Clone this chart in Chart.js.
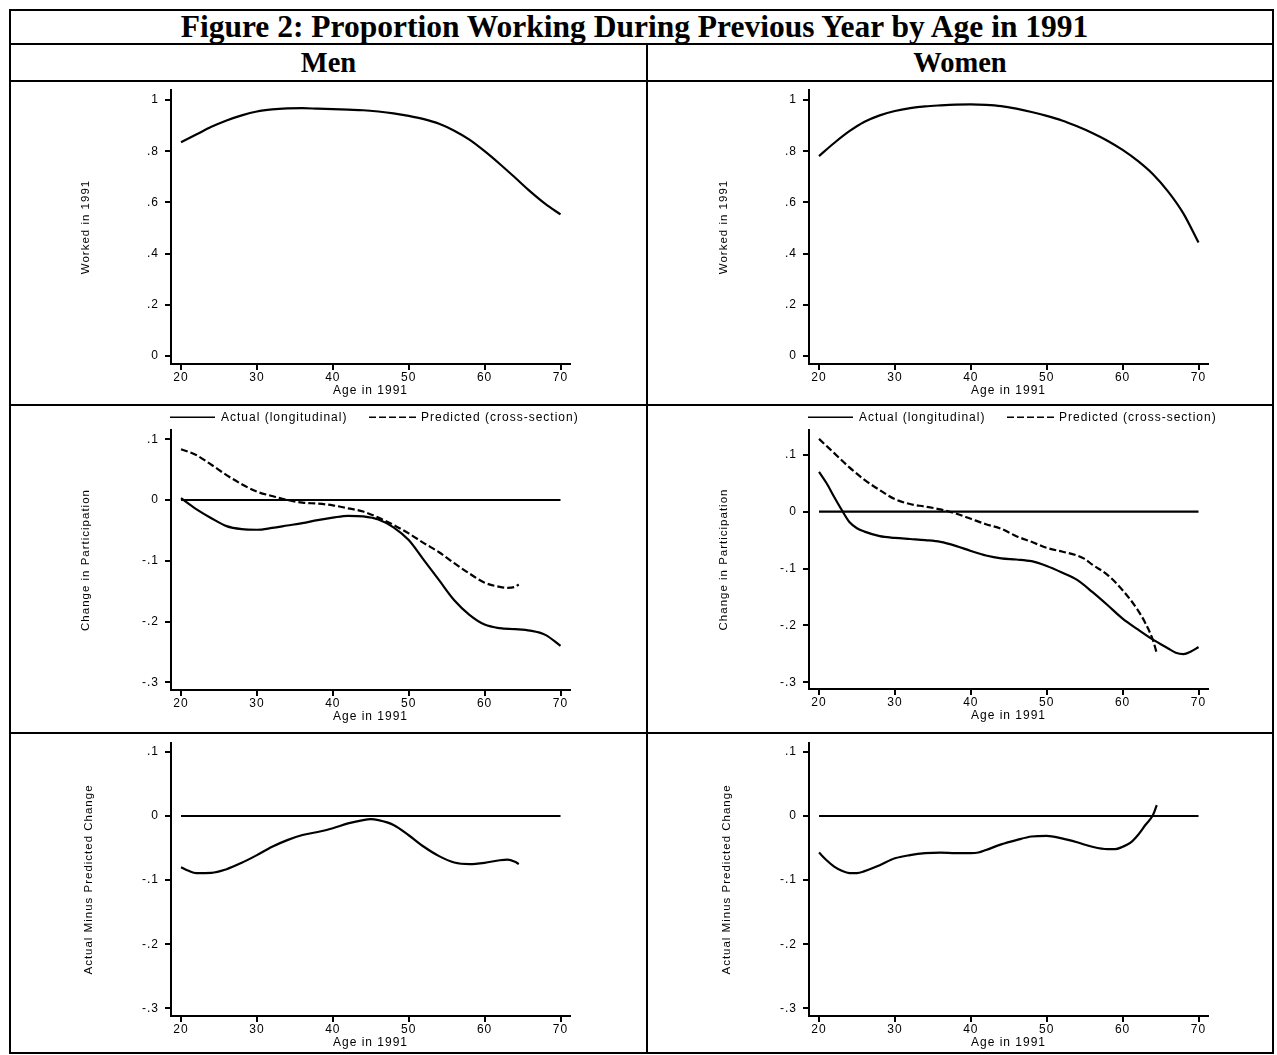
<!DOCTYPE html>
<html lang="en"><head><meta charset="utf-8"><title>Figure 2</title>
<script src="https://cdn.jsdelivr.net/npm/chart.js@4.4.1/dist/chart.umd.min.js"></script>
<style>
html,body{margin:0;padding:0;background:#fff;}
body{position:relative;width:1277px;height:1055px;overflow:hidden;}
.ln{position:absolute;background:#000;}
.hd{position:absolute;font-family:"Times New Roman","Liberation Serif",serif;font-weight:bold;color:#000;text-align:center;white-space:nowrap;}
canvas{position:absolute;}
</style></head><body>
<div class="ln" style="left:9px;top:9px;width:1265px;height:2px"></div>
<div class="ln" style="left:9px;top:43px;width:1265px;height:2px"></div>
<div class="ln" style="left:9px;top:80px;width:1265px;height:2px"></div>
<div class="ln" style="left:9px;top:404px;width:1265px;height:2px"></div>
<div class="ln" style="left:9px;top:732px;width:1265px;height:2px"></div>
<div class="ln" style="left:9px;top:1052px;width:1265px;height:2px"></div>
<div class="ln" style="left:9px;top:9px;width:2px;height:1045px"></div>
<div class="ln" style="left:1272px;top:9px;width:2px;height:1045px"></div>
<div class="ln" style="left:646px;top:44px;width:2px;height:1010px"></div>
<div class="hd" style="left:4px;top:11px;width:1261px;height:32px;line-height:32px;font-size:31.5px">Figure 2: Proportion Working During Previous Year by Age in 1991</div>
<div class="hd" style="left:11px;top:45px;width:635px;height:35px;line-height:35px;font-size:28.5px">Men</div>
<div class="hd" style="left:648px;top:45px;width:624px;height:35px;line-height:35px;font-size:28.5px">Women</div>
<canvas id="m1"></canvas><canvas id="w1"></canvas>
<canvas id="m2"></canvas><canvas id="w2"></canvas>
<canvas id="m3"></canvas><canvas id="w3"></canvas>
<script>
// ---------- data ----------
const xTickVals = [20, 30, 40, 50, 60, 70];
const xTickLabels = ['20', '30', '40', '50', '60', '70'];
const xTitle = 'Age in 1991';
const yTicksLevel = [0, 0.2, 0.4, 0.6, 0.8, 1];
const yLabelsLevel = ['0', '.2', '.4', '.6', '.8', '1'];
const yTicksChange = [-0.3, -0.2, -0.1, 0, 0.1];
const yLabelsChange = ['-.3', '-.2', '-.1', '0', '.1'];
const yTitleLevel = 'Worked in 1991';
const yTitleChange = 'Change in Participation';
const yTitleDiff = 'Actual Minus Predicted Change';
const labelActual = 'Actual (longitudinal)';
const labelPredicted = 'Predicted (cross-section)';

const zeroAges = [20, 70];
const zeroVals = [0, 0];

// Row 1: worked in 1991
const agesLevel = [20,22,24,26,28,30,32,34,36,38,40,42,44,46,48,50,52,54,56,58,60,62,64,66,68,70];
const menWorked = [0.835,0.865,0.895,0.920,0.940,0.955,0.963,0.967,0.968,0.966,0.964,0.962,0.960,0.955,0.948,0.938,0.925,0.907,0.880,0.845,0.800,0.750,0.697,0.643,0.594,0.553];
const womenWorked = [0.781,0.832,0.878,0.915,0.940,0.957,0.968,0.975,0.979,0.982,0.983,0.981,0.976,0.966,0.953,0.938,0.920,0.897,0.871,0.841,0.805,0.762,0.710,0.642,0.557,0.443];

// Row 2: change in participation, men
const menActualAges = [20,22,24,26,28,30,32,34,36,38,40,42,44,46,48,50,52,54,56,58,60,62,64,66,68,70];
const menActual = [0.003,-0.015,-0.030,-0.043,-0.048,-0.049,-0.046,-0.042,-0.038,-0.033,-0.029,-0.026,-0.027,-0.032,-0.045,-0.066,-0.099,-0.132,-0.165,-0.189,-0.205,-0.211,-0.2125,-0.215,-0.222,-0.240];
const menPredAges = [20,22,24,26,28,30,32,34,36,38,40,42,44,46,48,50,52,54,56,58,60,62,63,64,64.5];
const menPred = [0.0835,0.074,0.058,0.041,0.026,0.0137,0.0066,0.0,-0.0044,-0.006,-0.0088,-0.0137,-0.019,-0.029,-0.041,-0.055,-0.071,-0.086,-0.104,-0.121,-0.136,-0.143,-0.1445,-0.143,-0.139];

// Row 2: change in participation, women
const womenActualAges = [20,21,22,23,24,25,26,28,30,32,34,36,38,40,42,44,46,48,50,52,54,56,58,60,62,64,66,67,68,69,70];
const womenActual = [0.070,0.050,0.026,0.003,-0.018,-0.029,-0.035,-0.043,-0.046,-0.048,-0.050,-0.053,-0.060,-0.069,-0.077,-0.082,-0.084,-0.087,-0.0955,-0.107,-0.120,-0.141,-0.164,-0.188,-0.207,-0.225,-0.2405,-0.248,-0.2505,-0.246,-0.238];
const womenPredAges = [20,22,24,26,28,30,32,34,36,38,40,42,44,46,48,50,52,54,55,56,58,60,62,63,64,64.5];
const womenPred = [0.128,0.103,0.078,0.056,0.038,0.022,0.0135,0.009,0.004,-0.003,-0.0125,-0.022,-0.030,-0.043,-0.053,-0.0635,-0.070,-0.077,-0.083,-0.093,-0.111,-0.138,-0.173,-0.196,-0.226,-0.249];

// Row 3: actual minus predicted
const menDiffAges = [20,21,22,24,26,28,30,32,34,36,38,40,42,44,45,46,48,50,52,54,56,58,60,62,63,64,64.5];
const menDiff = [-0.080,-0.0855,-0.089,-0.0887,-0.083,-0.073,-0.061,-0.048,-0.0376,-0.0297,-0.025,-0.019,-0.0115,-0.0063,-0.005,-0.0065,-0.014,-0.030,-0.048,-0.0626,-0.0725,-0.075,-0.073,-0.069,-0.068,-0.0715,-0.075];
const womenDiffAges = [20,21,22,23,24,25,26,28,30,32,34,36,38,40,41,42,44,46,48,50,52,54,56,58,59,60,61,62,63,64,64.5];
const womenDiff = [-0.057,-0.069,-0.079,-0.0855,-0.089,-0.089,-0.086,-0.0767,-0.066,-0.061,-0.058,-0.057,-0.058,-0.058,-0.057,-0.053,-0.0443,-0.0376,-0.032,-0.031,-0.035,-0.041,-0.048,-0.0517,-0.0517,-0.048,-0.042,-0.030,-0.014,0.0016,0.017];

// ---------- drawing ----------
const FONT = "Arial, 'Liberation Sans', Helvetica, sans-serif";
const pts = (xs, ys) => xs.map((x, i) => ({x: x, y: ys[i]}));

function line(xs, ys, label, dashed) {
  return {
    label: label, data: pts(xs, ys), borderColor: '#000', borderWidth: 2.2,
    borderDash: dashed ? [7, 3] : [], pointRadius: 0, fill: false,
    cubicInterpolationMode: 'monotone'
  };
}

const spacingPlugin = {
  id: 'spacing',
  beforeLayout(chart) { chart.ctx.letterSpacing = '1px'; },
  beforeDraw(chart) { chart.ctx.letterSpacing = '1px'; }
};

const legendPlugin = {
  id: 'stataLegend',
  afterDraw(chart, args, opts) {
    if (!opts.display) return;
    const ctx = chart.ctx, ca = chart.chartArea;
    const y = ca.top + opts.dy;
    ctx.save();
    ctx.letterSpacing = '1px';
    ctx.font = '12px ' + FONT;
    ctx.fillStyle = '#000';
    ctx.textBaseline = 'middle';
    ctx.textAlign = 'left';
    const items = chart.data.datasets.filter(d => d.label);
    items.forEach((d, i) => {
      const it = opts.items[i];
      ctx.strokeStyle = d.borderColor;
      ctx.lineWidth = 1.6;
      ctx.setLineDash(d.borderDash || []);
      ctx.beginPath();
      ctx.moveTo(ca.left + it.x0, y);
      ctx.lineTo(ca.left + it.x0 + it.len, y);
      ctx.stroke();
      ctx.fillText(d.label, ca.left + it.tx, y);
    });
    ctx.restore();
  }
};

function panel(id, area, xr, yr, yTicks, yLabels, yTitle, titleDist, datasets, showLegend) {
  const PADL = 150, PADT = 22, PADR = 22, PADB = 36, HX = 34;
  const TFS = 11.5;
  const c = document.getElementById(id);
  const w = area[1] - area[0] + PADL + PADR;
  const h = area[3] - area[2] + PADT + PADB;
  c.width = w; c.height = h;
  c.style.width = w + 'px'; c.style.height = h + 'px';
  c.style.left = (area[0] - PADL) + 'px';
  c.style.top = (area[2] - PADT) + 'px';
  const WY = titleDist + TFS * 1.2 / 2;
  return new Chart(c, {
    type: 'line',
    data: {datasets: datasets},
    options: {
      responsive: false, animation: false, devicePixelRatio: 1, events: [],
      layout: {padding: {left: PADL - WY, top: PADT, right: PADR, bottom: PADB - HX}},
      plugins: {
        legend: {display: false}, tooltip: {enabled: false},
        stataLegend: {display: showLegend, dy: -12.7,
          items: [{x0: -1, len: 45, tx: 50}, {x0: 198, len: 49, tx: 250}]}
      },
      scales: {
        x: {
          type: 'linear', position: 'bottom', min: xr[0], max: xr[1],
          afterBuildTicks: s => { s.ticks = xTickVals.map(v => ({value: v})); },
          afterFit: s => { s.height = HX; },
          grid: {display: true, drawOnChartArea: false, drawTicks: true, tickLength: 6, color: '#000', lineWidth: 2},
          border: {display: true, color: '#000', width: 2},
          ticks: {color: '#000', font: {family: FONT, size: 12}, padding: 0.5, maxRotation: 0, autoSkip: false,
                  callback: (v, i) => xTickLabels[i]},
          title: {display: true, text: xTitle, color: '#000', font: {family: FONT, size: 12}, padding: 0}
        },
        y: {
          type: 'linear', position: 'left', min: yr[0], max: yr[1],
          afterBuildTicks: s => { s.ticks = yTicks.map(v => ({value: v})); },
          afterFit: s => { s.width = WY; },
          grid: {display: true, drawOnChartArea: false, drawTicks: true, tickLength: 6, color: '#000', lineWidth: 2},
          border: {display: true, color: '#000', width: 2},
          ticks: {color: '#000', font: {family: FONT, size: 12}, padding: 6, autoSkip: false,
                  callback: (v, i) => yLabels[i]},
          title: {display: true, text: yTitle, color: '#000', font: {family: FONT, size: TFS}, padding: 0}
        }
      }
    },
    plugins: [spacingPlugin, legendPlugin]
  });
}

const XR = [18.68, 71.25];
panel('m1', [171, 570, 90, 364], XR, [-0.03125, 1.039], yTicksLevel, yLabelsLevel, yTitleLevel, 85.5,
  [line(agesLevel, menWorked, undefined, false)], false);
panel('w1', [809, 1208, 90, 364], XR, [-0.03125, 1.039], yTicksLevel, yLabelsLevel, yTitleLevel, 85.5,
  [line(agesLevel, womenWorked, undefined, false)], false);
panel('m2', [171, 570, 430, 690], XR, [-0.3127, 0.1152], yTicksChange, yLabelsChange, yTitleChange, 85.5,
  [line(menActualAges, menActual, labelActual, false), line(menPredAges, menPred, labelPredicted, true),
   line(zeroAges, zeroVals, undefined, false)], true);
panel('w2', [809, 1208, 430, 689], XR, [-0.3118, 0.1437], yTicksChange, yLabelsChange, yTitleChange, 85.5,
  [line(womenActualAges, womenActual, labelActual, false), line(womenPredAges, womenPred, labelPredicted, true),
   line(zeroAges, zeroVals, undefined, false)], true);
panel('m3', [171, 570, 743, 1016], XR, [-0.312, 0.1139], yTicksChange, yLabelsChange, yTitleDiff, 82.5,
  [line(menDiffAges, menDiff, undefined, false), line(zeroAges, zeroVals, undefined, false)], false);
panel('w3', [809, 1208, 743, 1016], XR, [-0.312, 0.1139], yTicksChange, yLabelsChange, yTitleDiff, 82.5,
  [line(womenDiffAges, womenDiff, undefined, false), line(zeroAges, zeroVals, undefined, false)], false);
</script>
</body></html>
